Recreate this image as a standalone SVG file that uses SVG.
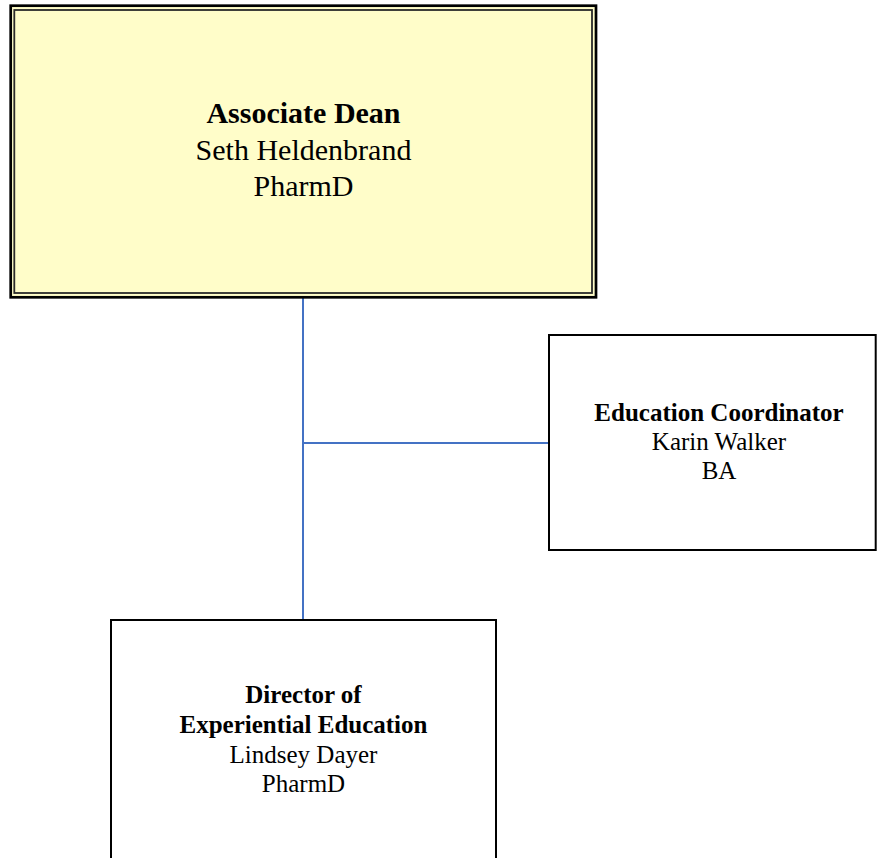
<svg xmlns="http://www.w3.org/2000/svg" width="877" height="858" viewBox="0 0 877 858">
  <style>
    .box { fill: #ffffff; stroke: #000000; stroke-width: 2; }
    .t { font-family: "Liberation Serif", "Times New Roman", serif; text-anchor: middle; fill: #000000; }
    .b { font-weight: bold; }
    .conn { stroke: #4472C4; stroke-width: 2; fill: none; }
  </style>
  <rect x="0" y="0" width="877" height="858" fill="#ffffff"/>
  <g id="connectors">
    <line class="conn" x1="303" y1="298" x2="303" y2="620"/>
    <line class="conn" x1="303" y1="443" x2="549" y2="443"/>
  </g>
  <g id="associate-dean">
    <rect x="10.7" y="5.7" width="585.3" height="291.6" fill="#FFFDC9" stroke="#000000" stroke-width="2.7"/>
    <rect x="14.3" y="10" width="577.7" height="283" fill="none" stroke="#2a2a2a" stroke-width="1.8"/>
    <text class="t b" x="303.5" y="123" font-size="30">Associate Dean</text>
    <text class="t" x="303.5" y="159.5" font-size="30">Seth Heldenbrand</text>
    <text class="t" x="303.5" y="196" font-size="30">PharmD</text>
  </g>
  <g id="education-coordinator">
    <rect class="box" x="549" y="335" width="326.7" height="215"/>
    <text class="t b" x="719" y="421" font-size="25">Education Coordinator</text>
    <text class="t" x="719" y="450" font-size="25">Karin Walker</text>
    <text class="t" x="719" y="479" font-size="25">BA</text>
  </g>
  <g id="director">
    <rect class="box" x="111" y="620" width="385" height="260"/>
    <text class="t b" x="303.5" y="703" font-size="25">Director of</text>
    <text class="t b" x="303.5" y="733" font-size="25">Experiential Education</text>
    <text class="t" x="303.5" y="763" font-size="25">Lindsey Dayer</text>
    <text class="t" x="303.5" y="792" font-size="25">PharmD</text>
  </g>
</svg>
